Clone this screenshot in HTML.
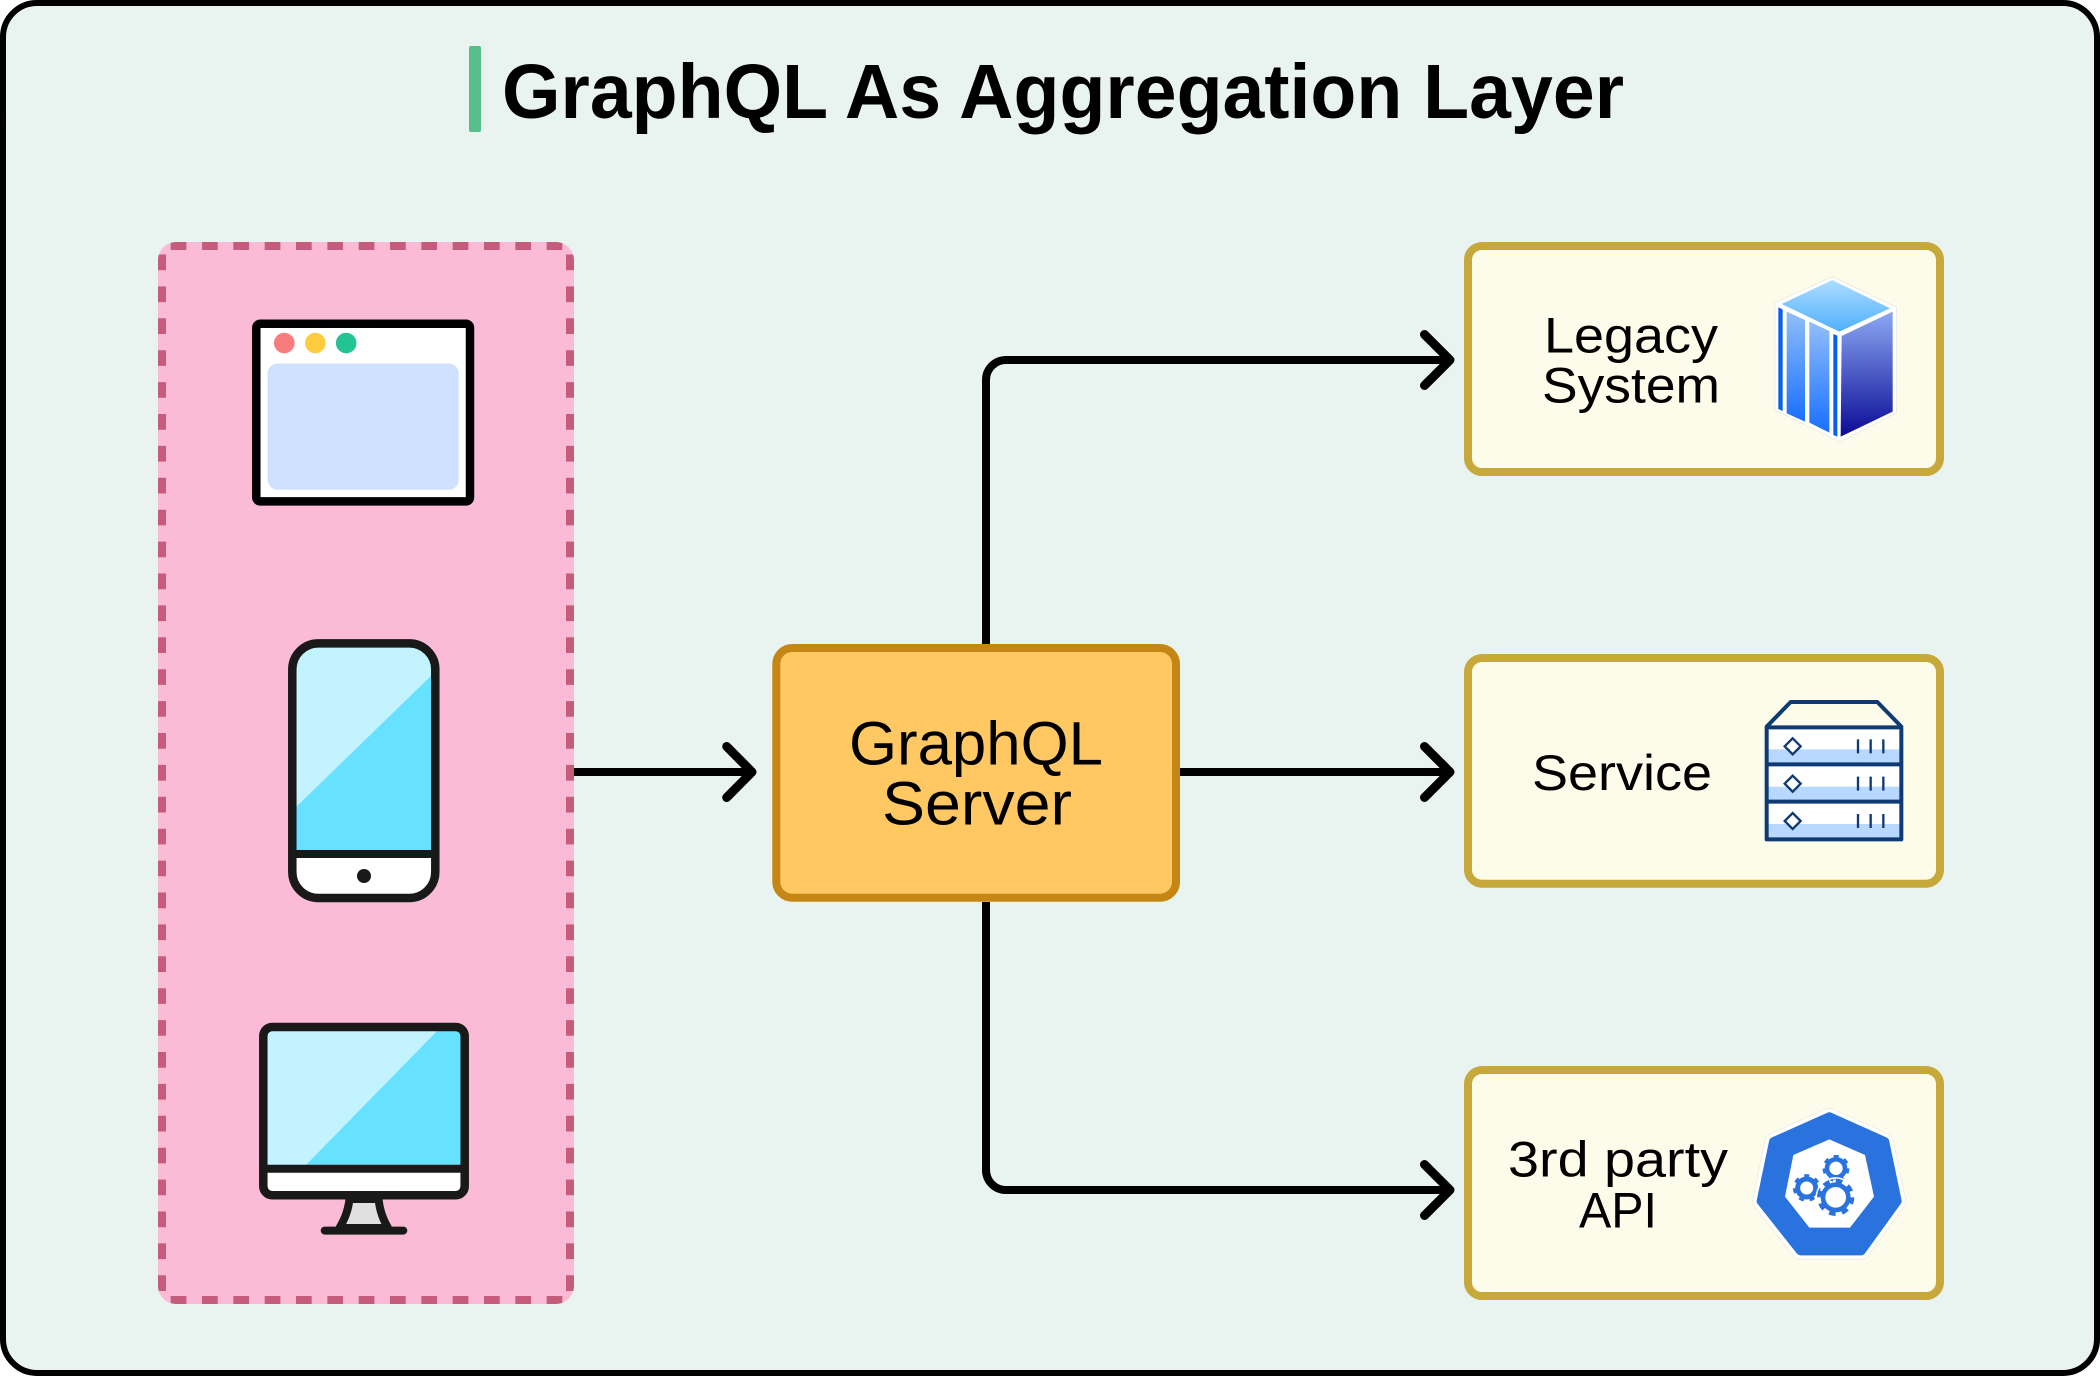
<!DOCTYPE html>
<html lang="en">
<head>
<meta charset="utf-8">
<title>GraphQL As Aggregation Layer</title>
<style>
html,body{margin:0;padding:0;background:#fff;width:2100px;height:1376px;overflow:hidden}
svg{display:block}
text{font-family:"Liberation Sans",sans-serif;fill:#000}
</style>
</head>
<body>
<svg xmlns="http://www.w3.org/2000/svg" width="2100" height="1376" viewBox="0 0 2100 1376">
<defs>
  <clipPath id="pinkClip"><rect x="158" y="242" width="416" height="1062" rx="18" ry="18"/></clipPath>
  <clipPath id="phoneClip"><rect x="292.3" y="643.4" width="143" height="254.6" rx="26" ry="26"/></clipPath>
  <clipPath id="deskClip"><rect x="263.3" y="1027" width="201.4" height="168.3" rx="9" ry="9"/></clipPath>
  <linearGradient id="cTop" x1="0" y1="0" x2="0" y2="1"><stop offset="0" stop-color="#ADDDFF"/><stop offset="1" stop-color="#4FB0FE"/></linearGradient>
  <linearGradient id="cRight" x1="0" y1="0" x2="0" y2="1"><stop offset="0" stop-color="#8CA9F2"/><stop offset="1" stop-color="#0A0A96"/></linearGradient>
  <linearGradient id="cLeft" x1="0" y1="0" x2="0" y2="1"><stop offset="0" stop-color="#90BEFA"/><stop offset="1" stop-color="#1A6FFF"/></linearGradient>
</defs>

<!-- frame -->
<rect x="3" y="3" width="2094" height="1370" rx="34" ry="34" fill="#E9F4F0" stroke="#000" stroke-width="6"/>

<!-- title -->
<rect x="469" y="46" width="12" height="86" rx="2" fill="#55BE8A"/>
<text x="502" y="118" font-size="77" font-weight="700" textLength="1122" lengthAdjust="spacingAndGlyphs">GraphQL As Aggregation Layer</text>

<!-- client group -->
<rect x="158" y="242" width="416" height="1062" rx="18" ry="18" fill="#FBBBD6"/>
<g clip-path="url(#pinkClip)" stroke="#C55C7C" stroke-width="8" fill="none">
  <line x1="170.7" y1="246" x2="570" y2="246" stroke-dasharray="15.7 15.63"/>
  <line x1="170.7" y1="1300" x2="570" y2="1300" stroke-dasharray="15.7 15.63"/>
  <line x1="162" y1="254.5" x2="162" y2="1304" stroke-dasharray="15.7 16.2"/>
  <line x1="570" y1="254.5" x2="570" y2="1304" stroke-dasharray="15.7 16.2"/>
</g>

<!-- browser icon -->
<rect x="256.3" y="323.7" width="213.7" height="177.7" rx="4" fill="#fff" stroke="#000" stroke-width="8.5"/>
<rect x="267.7" y="363.5" width="191" height="126.3" rx="10" fill="#CFE1FF"/>
<circle cx="284.3" cy="343" r="10.3" fill="#F87B7E"/>
<circle cx="315.3" cy="343" r="10.3" fill="#FFCB3F"/>
<circle cx="346.2" cy="343" r="10.3" fill="#22C494"/>

<!-- phone icon -->
<g clip-path="url(#phoneClip)">
  <rect x="292" y="643" width="144" height="256" fill="#fff"/>
  <rect x="292" y="643" width="144" height="211" fill="#66E1FF"/>
  <polygon points="292,643 436,643 436,671 292,811" fill="#C2F3FF"/>
</g>
<line x1="292" y1="854" x2="436" y2="854" stroke="#191919" stroke-width="8"/>
<rect x="292.3" y="643.4" width="143" height="254.6" rx="26" ry="26" fill="none" stroke="#191919" stroke-width="8.5"/>
<circle cx="364" cy="876" r="7" fill="#191919"/>

<!-- desktop icon -->
<path d="M349.5 1199 C348 1212 344 1220 339.5 1228 H388 C383.5 1220 380 1212 378.5 1199 Z" fill="#E0E0E0" stroke="#191919" stroke-width="8" stroke-linejoin="round"/>
<line x1="324.7" y1="1230.6" x2="403.3" y2="1230.6" stroke="#191919" stroke-width="8" stroke-linecap="round"/>
<g clip-path="url(#deskClip)">
  <rect x="263" y="1027" width="202" height="170" fill="#fff"/>
  <rect x="263" y="1027" width="202" height="138" fill="#66E1FF"/>
  <polygon points="263,1027 441,1027 306,1165 263,1165" fill="#C2F3FF"/>
</g>
<line x1="263" y1="1168.7" x2="465" y2="1168.7" stroke="#191919" stroke-width="8"/>
<rect x="263.3" y="1027" width="201.4" height="168.3" rx="9" ry="9" fill="none" stroke="#191919" stroke-width="8.5"/>

<!-- connectors -->
<g fill="none" stroke="#000" stroke-width="8" stroke-linejoin="round" stroke-linecap="butt">
  <path d="M574 772 H750"/>
  <path d="M1180 772 H1450"/>
  <path d="M986 644 V380 A20 20 0 0 1 1006 360 H1450"/>
  <path d="M986 902 V1170 A20 20 0 0 0 1006 1190 H1450"/>
</g>
<g fill="none" stroke="#000" stroke-width="9" stroke-linejoin="round" stroke-linecap="round">
  <path d="M726.7 746.5 L752 772 L726.7 797.5"/>
  <path d="M1424.5 334.5 L1450 360 L1424.5 385.5"/>
  <path d="M1424.5 746.5 L1450 772 L1424.5 797.5"/>
  <path d="M1424.5 1164.5 L1450 1190 L1424.5 1215.5"/>
</g>

<!-- GraphQL server -->
<rect x="776.3" y="648" width="399.7" height="249.7" rx="16" ry="16" fill="#FFC862" stroke="#C58613" stroke-width="8"/>
<text x="849" y="764.3" font-size="61" textLength="254" lengthAdjust="spacingAndGlyphs">GraphQL</text>
<text x="882" y="824.5" font-size="61" textLength="190" lengthAdjust="spacingAndGlyphs">Server</text>

<!-- right boxes -->
<rect x="1468" y="246" width="472" height="226" rx="14" ry="14" fill="#FDFCEA" stroke="#C7A83B" stroke-width="8"/>
<rect x="1468" y="658" width="472" height="225.7" rx="14" ry="14" fill="#FDFCEA" stroke="#C7A83B" stroke-width="8"/>
<rect x="1468" y="1070" width="472" height="226" rx="14" ry="14" fill="#FDFCEA" stroke="#C7A83B" stroke-width="8"/>

<text x="1544" y="352.7" font-size="50" textLength="174" lengthAdjust="spacingAndGlyphs">Legacy</text>
<text x="1542" y="402.7" font-size="50" textLength="178" lengthAdjust="spacingAndGlyphs">System</text>
<text x="1532" y="790" font-size="50" textLength="180" lengthAdjust="spacingAndGlyphs">Service</text>
<text x="1508" y="1176.7" font-size="50" textLength="220" lengthAdjust="spacingAndGlyphs">3rd party</text>
<text x="1579" y="1227.3" font-size="50" textLength="78" lengthAdjust="spacingAndGlyphs">API</text>

<!-- cube icon -->
<g transform="translate(1450 230) scale(0.33333)">
  <polygon points="1147,140 1340,232 1340,548 1170,636 975,540 975,218" fill="#fff" stroke="#E4E4DC" stroke-width="2"/>
  <polygon points="1147,150 1320,235 1168,305 995,222" fill="url(#cTop)"/>
  <polygon points="1328,245 1328,545 1172,620 1175,318" fill="url(#cRight)"/>
  <polygon points="985,232 998,238 998,543 985,537" fill="#0A5FF0"/>
  <polygon points="1010,245 1065,270 1065,575 1010,550" fill="url(#cLeft)"/>
  <polygon points="1078,275 1138,303 1138,608 1078,578" fill="url(#cLeft)"/>
  <polygon points="1150,312 1162,317 1162,620 1150,615" fill="#0A5FF0"/>
</g>

<!-- server icon -->
<g transform="translate(1450 640) scale(0.33333)">
  <rect x="950" y="260" width="404" height="340" fill="#fff"/>
  <rect x="950" y="328" width="404" height="42" fill="#B8D8FF"/>
  <rect x="950" y="440" width="404" height="42" fill="#B8D8FF"/>
  <rect x="950" y="552" width="404" height="44" fill="#B8D8FF"/>
  <g fill="none" stroke="#0F3A73" stroke-width="12" stroke-linejoin="round">
    <path d="M950 260 L1022 186 H1282 L1354 260 V598 H950 Z" fill="none"/>
    <path d="M950 262 H1354 M950 373 H1354 M950 485 H1354"/>
  </g>
  <g fill="#fff" stroke="#0F3A73" stroke-width="7">
    <polygon points="1028,295 1052,319 1028,343 1004,319"/>
    <polygon points="1028,407 1052,431 1028,455 1004,431"/>
    <polygon points="1028,519 1052,543 1028,567 1004,543"/>
  </g>
  <g stroke="#0F3A73" stroke-width="7">
    <path d="M1224 298V340M1262 298V340M1300 298V340"/>
    <path d="M1224 410V452M1262 410V452M1300 410V452"/>
    <path d="M1224 522V564M1262 522V564M1300 522V564"/>
  </g>
</g>

<!-- kubernetes icon -->
<g transform="translate(1450 1050) scale(0.33333)">
  <g stroke-linejoin="round">
    <polygon points="1138,202 1303,276 1340,453 1233,601 1052,601 935,453 972,276" fill="#E8E8DE" stroke="#E8E8DE" stroke-width="56"/>
    <polygon points="1138,202 1303,276 1340,453 1233,601 1052,601 935,453 972,276" fill="#fff" stroke="#fff" stroke-width="52"/>
    <polygon points="1138,202 1303,276 1340,453 1233,601 1052,601 935,453 972,276" fill="#2A72DE" stroke="#2A72DE" stroke-width="30"/>
  </g>
  <polygon points="1138,268 1245,315 1272,440 1200,533 1078,533 1005,440 1030,315" fill="#fff"/>
  <g fill="none" stroke="#2A72DE">
    <circle cx="1158" cy="355" r="27" stroke-width="14"/>
    <circle cx="1158" cy="355" r="36" stroke-width="9" stroke-dasharray="15 17.3"/>
    <circle cx="1070" cy="414" r="27" stroke-width="15"/>
    <circle cx="1070" cy="414" r="37" stroke-width="9" stroke-dasharray="15 18.2"/>
    <circle cx="1157" cy="442" r="58" stroke="#fff" stroke-width="5"/>
    <circle cx="1157" cy="442" r="38" stroke-width="14"/>
    <circle cx="1157" cy="442" r="50" stroke-width="12" stroke-dasharray="20 19.27"/>
  </g>
</g>
</svg>
</body>
</html>
